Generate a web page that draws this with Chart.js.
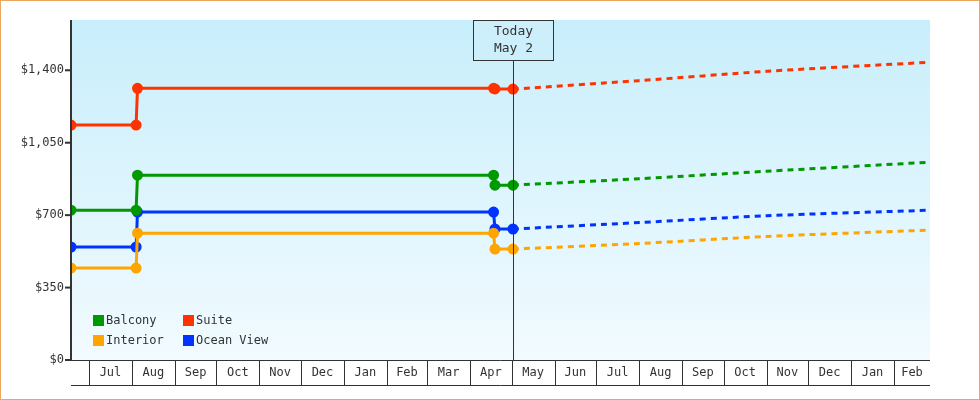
<!DOCTYPE html>
<html><head><meta charset="utf-8">
<script src="https://cdn.jsdelivr.net/npm/chart.js@4"></script>
<style>html,body{margin:0;padding:0;background:#fff}#w{width:980px;height:400px}</style>
</head><body><div id="w"><canvas id="c" width="980" height="400"></canvas></div>
<script>
const seriesNames = ["Balcony","Suite","Interior","Ocean View"];
const seriesColors = ["#009900","#ff3300","#ffa500","#0033ff"];
const histDates = ["2023-06-18","2023-08-04","2023-08-05","2024-04-18","2024-04-19","2024-05-02"];
const balcony = [724,724,893,893,845,845];
const suite = [1135,1135,1313,1313,1310,1309];
const interior = [444,444,613,613,536,536];
const oceanView = [546,546,715,715,633,633];
const fcDates = ["2024-05-02","2024-08-01","2024-11-01","2025-02-27"];
const balconyFc = [845,876,912,956];
const suiteFc = [1309,1350,1395,1439];
const interiorFc = [536,563,597,628];
const oceanViewFc = [633,664,697,724];
const monthStarts = ["2023-07-01","2023-08-01","2023-09-01","2023-10-01","2023-11-01","2023-12-01","2024-01-01","2024-02-01","2024-03-01","2024-04-01","2024-05-01","2024-06-01","2024-07-01","2024-08-01","2024-09-01","2024-10-01","2024-11-01","2024-12-01","2025-01-01","2025-02-01","2025-03-01"];
const monthLabels = ["Jul","Aug","Sep","Oct","Nov","Dec","Jan","Feb","Mar","Apr","May","Jun","Jul","Aug","Sep","Oct","Nov","Dec","Jan","Feb"];
const yTicks = [0,350,700,1050,1400];
const xStart = "2023-06-18", xEnd = "2025-02-27", today = "2024-05-02";
const todayLabel = ["Today","May 2"];

const day = s => Date.UTC(+s.slice(0,4), +s.slice(5,7)-1, +s.slice(8,10))/86400000;
const pts = (d,v) => d.map((x,i)=>({x:day(x),y:v[i]}));
const hist = [balcony,suite,interior,oceanView], fc=[balconyFc,suiteFc,interiorFc,oceanViewFc];
const datasets=[];
hist.forEach((v,i)=>datasets.push({data:pts(histDates,v),borderColor:seriesColors[i],backgroundColor:seriesColors[i],borderWidth:3,pointRadius:4,pointHoverRadius:4,tension:0}));
fc.forEach((v,i)=>datasets.push({data:pts(fcDates,v),borderColor:seriesColors[i],borderWidth:3,borderDash:[6,5],pointRadius:0,tension:0.3}));
const FONT="12px 'DejaVu Sans Mono', monospace";
const plug={id:'p',
beforeDraw(ch){const a=ch.chartArea,c=ch.ctx;const g=c.createLinearGradient(0,a.top,0,a.bottom);g.addColorStop(0,'#c8eefb');g.addColorStop(1,'#f2fbff');c.fillStyle=g;c.fillRect(a.left,a.top,a.right-a.left,a.bottom-a.top);},
afterDraw(ch){const a=ch.chartArea,c=ch.ctx,xs=ch.scales.x,ys=ch.scales.y;
c.save();c.strokeStyle='#e8a860';c.lineWidth=1;c.strokeRect(0.5,0.5,979,399);
// y axis
c.strokeStyle='#333';c.lineWidth=2;c.beginPath();c.moveTo(a.left,a.top);c.lineTo(a.left,a.bottom+1);c.stroke();
c.font=FONT;c.fillStyle='#333';c.textAlign='right';c.textBaseline='middle';
yTicks.forEach(t=>{const y=ys.getPixelForValue(t);c.beginPath();c.moveTo(a.left-6,y);c.lineTo(a.left,y);c.stroke();c.fillText('$'+t.toLocaleString('en-US'),a.left-7,y);});
// x boxes
c.lineWidth=1;c.beginPath();c.moveTo(a.left,a.bottom+0.5);c.lineTo(a.right,a.bottom+0.5);c.moveTo(a.left,a.bottom+25.5);c.lineTo(a.right,a.bottom+25.5);
monthStarts.forEach(m=>{const x=Math.round(xs.getPixelForValue(day(m)))+0.5;if(x<a.right){c.moveTo(x,a.bottom);c.lineTo(x,a.bottom+25);}});c.stroke();
c.textAlign='center';
monthLabels.forEach((l,i)=>{const x0=xs.getPixelForValue(day(monthStarts[i])),x1=Math.min(a.right,xs.getPixelForValue(day(monthStarts[i+1])));c.fillText(l,(x0+x1)/2,a.bottom+13);});
// today
const tx=Math.round(xs.getPixelForValue(day(today)))+0.5;c.strokeStyle='#333';c.beginPath();c.moveTo(tx,a.top+40);c.lineTo(tx,a.bottom);c.stroke();
c.fillStyle='#cdeffc';c.fillRect(tx-40,a.top,80,40);c.strokeRect(tx-40,a.top+0.5,80,40);
c.fillStyle='#333';c.font="13px 'DejaVu Sans Mono', monospace";c.fillText(todayLabel[0],tx,a.top+12);c.fillText(todayLabel[1],tx,a.top+29);
// legend
c.font=FONT;c.textAlign='left';
const pos=[[93,320],[183,320],[93,340],[183,340]];
seriesNames.forEach((n,i)=>{const[x,y]=pos[i];c.fillStyle=seriesColors[i];c.fillRect(x,y-5,11,11);c.fillStyle='#333';c.fillText(n,x+13,y+1);});
c.restore();}};
new Chart(document.getElementById('c'),{type:'line',data:{datasets},plugins:[plug],
options:{responsive:false,animation:false,layout:{padding:{top:20,right:50,bottom:40,left:71}},
plugins:{legend:{display:false},tooltip:{enabled:false}},
scales:{x:{type:'linear',display:false,min:day(xStart),max:day(xEnd)},
y:{display:false,min:0,max:1643}}}});
</script></body></html>
